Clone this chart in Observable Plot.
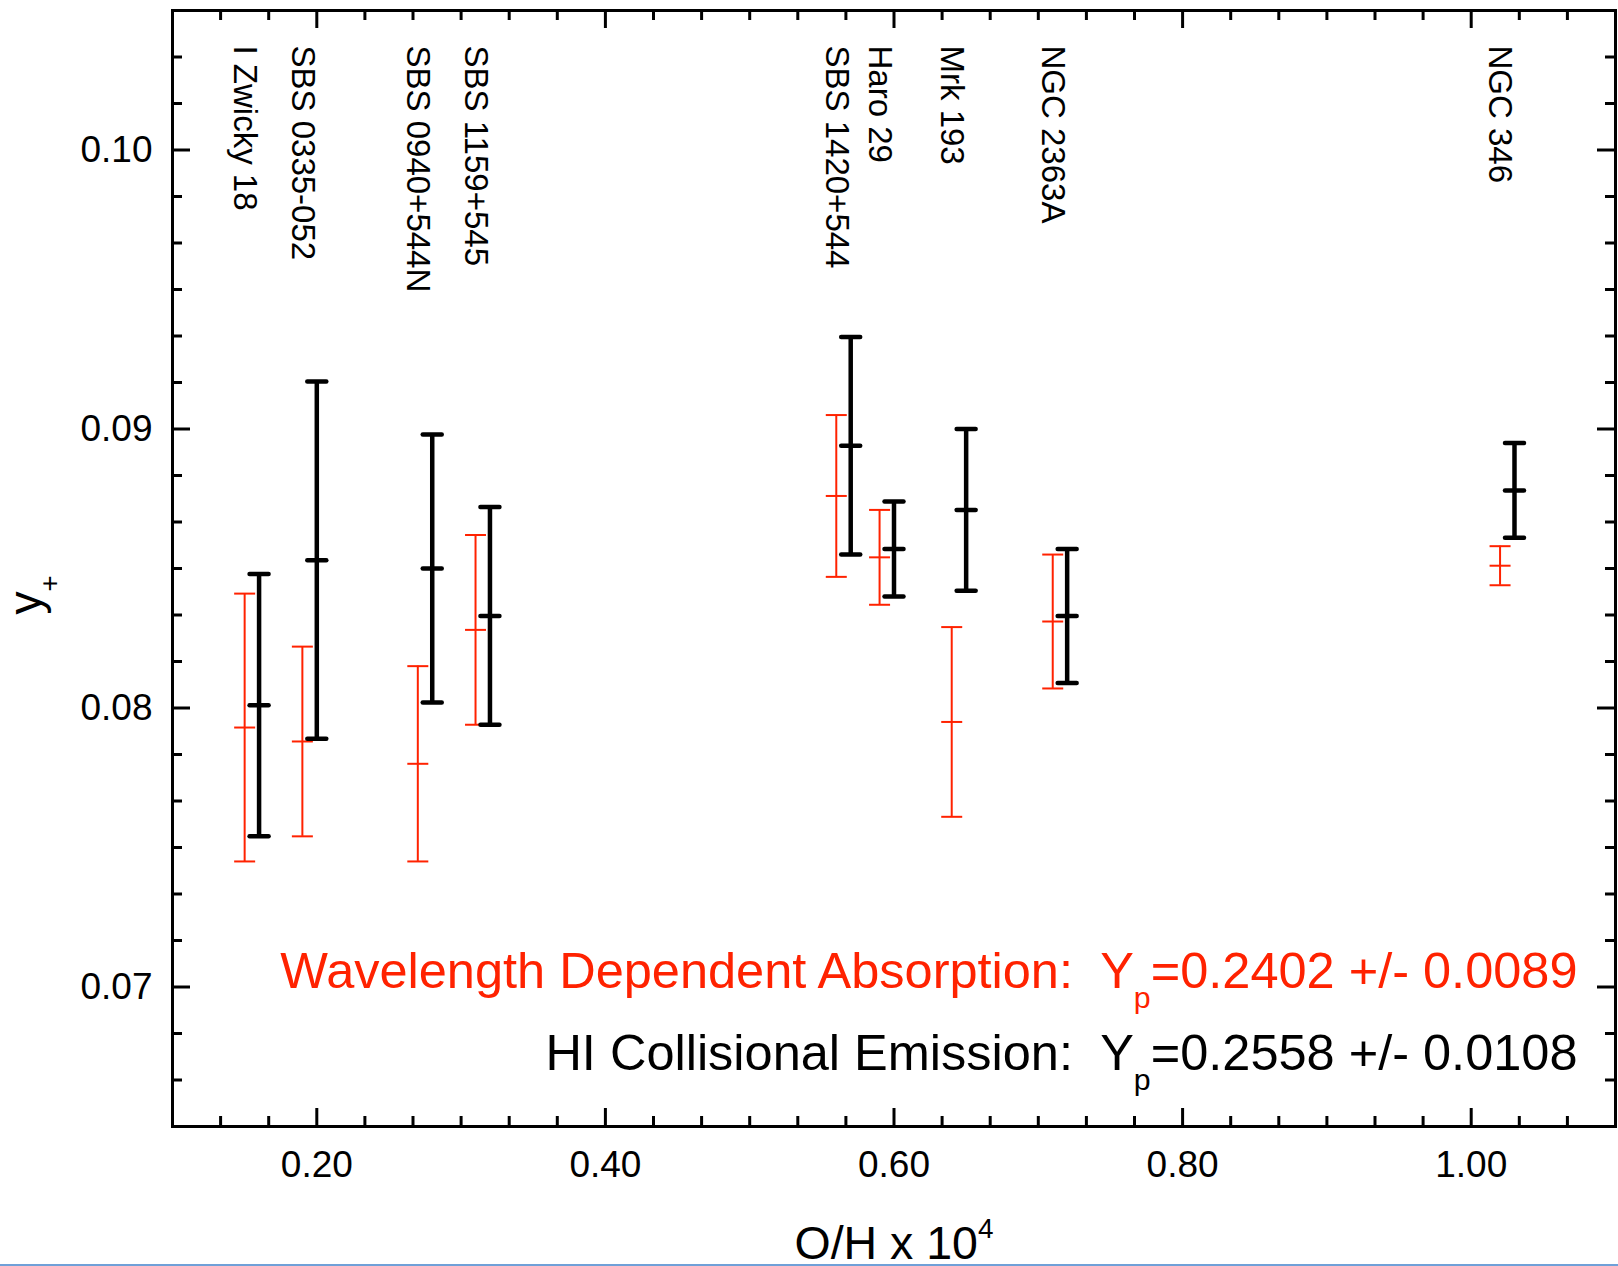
<!DOCTYPE html>
<html>
<head>
<meta charset="utf-8">
<script src="https://cdn.jsdelivr.net/npm/d3@7"></script>
<script src="https://cdn.jsdelivr.net/npm/@observablehq/plot@0.6"></script>
<style>
  html, body { margin: 0; padding: 0; background: #fff; overflow: hidden; }
  #chart { position: relative; width: 1618px; height: 1266px; }
  #edge { position: absolute; left: 0; top: 1264px; width: 1618px; height: 2px; background: #6fa0d8; }
</style>
</head>
<body>
<div id="chart"></div>
<div id="edge"></div>
<script>
// ---- data ----
const galaxies = ["I Zwicky 18", "SBS 0335-052", "SBS 0940+544N", "SBS 1159+545",
                  "SBS 1420+544", "Haro 29", "Mrk 193", "NGC 2363A", "NGC 346"];
// O/H x 10^4 positions: HI collisional emission (black) and wavelength dependent absorption (red)
const ohBlack = [0.160, 0.200, 0.280, 0.320, 0.570, 0.600, 0.650, 0.720, 1.030];
const ohRed   = [0.150, 0.190, 0.270, 0.310, 0.560, 0.590, 0.640, 0.710, 1.020];
// y+ values and 1-sigma errors
const yRed     = [0.0793, 0.0788, 0.0780, 0.0828, 0.0876, 0.0854, 0.0795, 0.0831, 0.0851];
const errRed   = [0.0048, 0.0034, 0.0035, 0.0034, 0.0029, 0.0017, 0.0034, 0.0024, 0.0007];
const yBlack   = [0.0801, 0.0853, 0.0850, 0.0833, 0.0894, 0.0857, 0.0871, 0.0833, 0.0878];
const errBlack = [0.0047, 0.0064, 0.0048, 0.0039, 0.0039, 0.0017, 0.0029, 0.0024, 0.0017];
// ticks / texts
const xTicks = [0.20, 0.40, 0.60, 0.80, 1.00];
const yTicks = [0.07, 0.08, 0.09, 0.10];
const legendRed   = "Wavelength Dependent Absorption:\u00a0 Y_{p}=0.2402 +/- 0.0089";
const legendBlack = "HI Collisional Emission:\u00a0 Y_{p}=0.2558 +/- 0.0108";
const xTitle = "O/H x 10^{4}";
const yTitle = "y_{+}";

// ---- layout / styles ----
const W = 1618, H = 1266, mL = 172, mR = 3, mT = 10, mB = 140;
const fw = W - mL - mR, fh = H - mT - mB;
const red = "#ff2200";

const rows = galaxies.map((name, i) => ({
  name, xr: ohRed[i], xb: ohBlack[i],
  yr: yRed[i], er: errRed[i], yb: yBlack[i], eb: errBlack[i]
}));
const capsRed = rows.flatMap(d => [d.yr - d.er, d.yr, d.yr + d.er].map(y => ({x: d.xr, y})));
const capsBlack = rows.flatMap(d => [d.yb - d.eb, d.yb, d.yb + d.eb].map(y => ({x: d.xb, y})));

// horizontal bar symbol for caps / centre markers
const hbar = {draw(ctx, size) { const r = Math.sqrt(size / Math.PI); ctx.moveTo(-r, 0); ctx.lineTo(r, 0); }};

const xMinor = d3.range(0, 31).filter(k => k % 6 !== 3).map(k => 0.1 + k / 30);
const yMinor = d3.range(0, 25).filter(k => k % 6 !== 3).map(k => 0.065 + k * 0.01 / 6);

const tk = {stroke: "black", strokeWidth: 3};
const ticksX = (vals, len) => [
  Plot.ruleX(vals, {...tk, insetTop: fh - len}),
  Plot.ruleX(vals, {...tk, insetBottom: fh - len})
];
const ticksY = (vals, len) => [
  Plot.ruleY(vals, {...tk, insetRight: fw - len}),
  Plot.ruleY(vals, {...tk, insetLeft: fw - len})
];

const chart = Plot.plot({
  width: W, height: H,
  marginLeft: mL, marginRight: mR, marginTop: mT, marginBottom: mB,
  x: {domain: [0.1, 1.1]},
  y: {domain: [0.065, 0.105]},
  style: {fontFamily: "'Liberation Sans', Arial, sans-serif", fontSize: "37px", color: "black", background: "white", overflow: "visible"},
  marks: [
    ...ticksX(xMinor, 10), ...ticksX(xTicks, 18),
    ...ticksY(yMinor, 10), ...ticksY(yTicks, 18),
    Plot.frame({stroke: "black", strokeWidth: 3}),
    Plot.axisX(xTicks, {tickFormat: d3.format(".2f"), tickSize: 0, tickPadding: 24, fontSize: 37, label: null, fill: "black"}),
    Plot.axisY(yTicks, {tickFormat: d3.format(".2f"), tickSize: 0, tickPadding: 20, fontSize: 37, label: null, fill: "black"}),
    // red: wavelength dependent absorption
    Plot.ruleX(rows, {x: "xr", y1: d => d.yr - d.er, y2: d => d.yr + d.er, stroke: red, strokeWidth: 2}),
    Plot.dot(capsRed, {x: "x", y: "y", symbol: hbar, r: 10.5, stroke: red, strokeWidth: 2}),
    // black: HI collisional emission
    Plot.ruleX(rows, {x: "xb", y1: d => d.yb - d.eb, y2: d => d.yb + d.eb, stroke: "black", strokeWidth: 4.5}),
    Plot.dot(capsBlack, {x: "x", y: "y", symbol: hbar, r: 9.5, stroke: "black", strokeWidth: 4.5, strokeLinecap: "round"}),
    // galaxy names
    Plot.text(rows, {x: "xr", text: "name", frameAnchor: "top", dy: 35, rotate: 90, textAnchor: "start", lineAnchor: "middle", fontSize: 33, fill: "black"}),
    // results
    Plot.text([legendRed], {text: d => d, frameAnchor: "bottom-right", textAnchor: "end", lineAnchor: "bottom", dx: -38, dy: -139, fill: red, fontSize: 50.5}),
    Plot.text([legendBlack], {text: d => d, frameAnchor: "bottom-right", textAnchor: "end", lineAnchor: "bottom", dx: -38, dy: -57, fill: "black", fontSize: 50.5}),
    // axis titles
    Plot.text([xTitle], {text: d => d, frameAnchor: "bottom", textAnchor: "middle", lineAnchor: "bottom", dy: 132, fill: "black", fontSize: 46.5}),
    Plot.text([yTitle], {text: d => d, frameAnchor: "left", rotate: -90, textAnchor: "start", lineAnchor: "bottom", dx: -132, dy: 46, fill: "black", fontSize: 46})
  ]
});

document.getElementById("chart").appendChild(chart);

// turn _{..} / ^{..} into sub/superscript tspans
d3.select(chart).selectAll("text").each(function() {
  const t = this.textContent;
  if (!/[_^]\{/.test(t)) return;
  const parts = [];
  const re = /([_^])\{([^}]*)\}/g;
  let last = 0, m;
  while ((m = re.exec(t))) {
    if (m.index > last) parts.push({s: t.slice(last, m.index)});
    parts.push({s: m[2], k: m[1]});
    last = re.lastIndex;
  }
  if (last < t.length) parts.push({s: t.slice(last)});
  const fs = parseFloat(getComputedStyle(this).fontSize) || 40;
  this.textContent = "";
  let cur = 0;
  for (const p of parts) {
    const target = p.k === "_" ? 0.41 * fs : p.k === "^" ? -0.44 * fs : 0;
    const ts = d3.select(this).append("tspan").text(p.s);
    if (target !== cur) ts.attr("dy", target - cur);
    if (p.k) ts.attr("font-size", 0.6 * fs);
    cur = target;
  }
});
</script>
</body>
</html>
